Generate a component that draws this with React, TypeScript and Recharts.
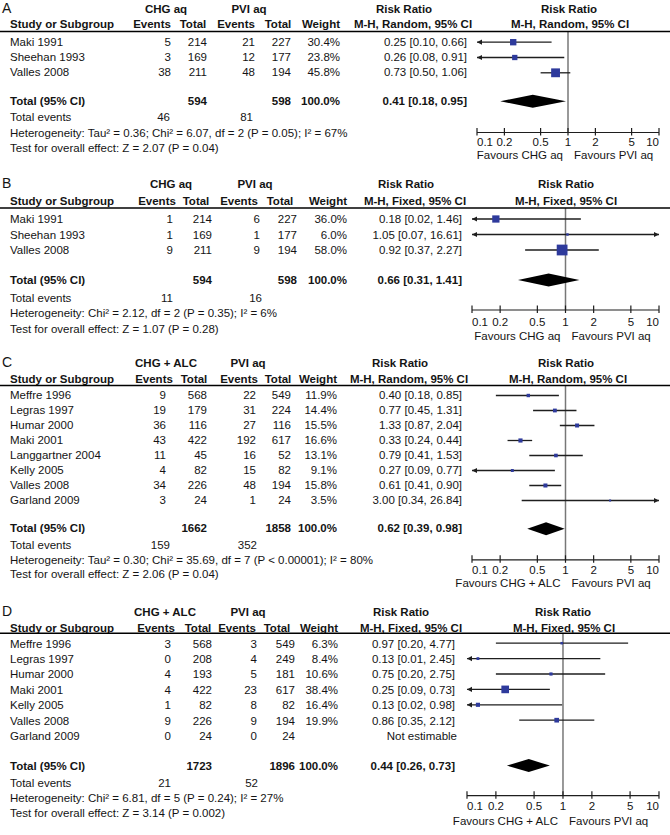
import React from 'react';
import { ComposedChart, Scatter, XAxis, YAxis, ReferenceLine } from 'recharts';

// ---------- shared axis ----------
const rrTicks = [0.1, 0.2, 0.5, 1, 2, 5, 10];
const rrTickLabels = ['0.1', '0.2', '0.5', '1', '2', '5', '10'];

// ---------- Panel A ----------
const studiesA = ['Maki 1991', 'Sheehan 1993', 'Valles 2008'];
const chgEventsA = [5, 3, 38];
const chgTotalA = [214, 169, 211];
const pviEventsA = [21, 12, 48];
const pviTotalA = [227, 177, 194];
const weightA = [30.4, 23.8, 45.8];
const rrA = [0.25, 0.26, 0.73];
const lowerA = [0.099, 0.08, 0.5];
const upperA = [0.66, 0.91, 1.06];
const totalsA = [594, 598];
const pooledA = [0.41, 0.18, 0.95];
const totalEventsA = [46, 81];
const groupsA = ['CHG aq', 'PVI aq'];
const methodA = 'M-H, Random, 95% CI';
const favoursA = ['Favours CHG aq', 'Favours PVI aq'];
const hetA = 'Heterogeneity: Tau² = 0.36; Chi² = 6.07, df = 2 (P = 0.05); I² = 67%';
const testA = 'Test for overall effect: Z = 2.07 (P = 0.04)';

// ---------- Panel B ----------
const studiesB = ['Maki 1991', 'Sheehan 1993', 'Valles 2008'];
const chgEventsB = [1, 1, 9];
const chgTotalB = [214, 169, 211];
const pviEventsB = [6, 1, 9];
const pviTotalB = [227, 177, 194];
const weightB = [36.0, 6.0, 58.0];
const rrB = [0.18, 1.05, 0.92];
const lowerB = [0.02, 0.07, 0.37];
const upperB = [1.46, 16.61, 2.27];
const totalsB = [594, 598];
const pooledB = [0.66, 0.31, 1.41];
const totalEventsB = [11, 16];
const groupsB = ['CHG aq', 'PVI aq'];
const methodB = 'M-H, Fixed, 95% CI';
const favoursB = ['Favours CHG aq', 'Favours PVI aq'];
const hetB = 'Heterogeneity: Chi² = 2.12, df = 2 (P = 0.35); I² = 6%';
const testB = 'Test for overall effect: Z = 1.07 (P = 0.28)';

// ---------- Panel C ----------
const studiesC = ['Meffre 1996', 'Legras 1997', 'Humar 2000', 'Maki 2001', 'Langgartner 2004', 'Kelly 2005', 'Valles 2008', 'Garland 2009'];
const chgEventsC = [9, 19, 36, 43, 11, 4, 34, 3];
const chgTotalC = [568, 179, 116, 422, 45, 82, 226, 24];
const pviEventsC = [22, 31, 27, 192, 16, 15, 48, 1];
const pviTotalC = [549, 224, 116, 617, 52, 82, 194, 24];
const weightC = [11.9, 14.4, 15.5, 16.6, 13.1, 9.1, 15.8, 3.5];
const rrC = [0.4, 0.77, 1.33, 0.33, 0.79, 0.27, 0.61, 3.0];
const lowerC = [0.18, 0.45, 0.87, 0.24, 0.41, 0.09, 0.41, 0.34];
const upperC = [0.85, 1.31, 2.04, 0.44, 1.53, 0.77, 0.9, 26.84];
const totalsC = [1662, 1858];
const pooledC = [0.62, 0.39, 0.98];
const totalEventsC = [159, 352];
const groupsC = ['CHG + ALC', 'PVI aq'];
const methodC = 'M-H, Random, 95% CI';
const favoursC = ['Favours CHG + ALC', 'Favours PVI aq'];
const hetC = 'Heterogeneity: Tau² = 0.30; Chi² = 35.69, df = 7 (P < 0.00001); I² = 80%';
const testC = 'Test for overall effect: Z = 2.06 (P = 0.04)';

// ---------- Panel D ----------
const studiesD = ['Meffre 1996', 'Legras 1997', 'Humar 2000', 'Maki 2001', 'Kelly 2005', 'Valles 2008', 'Garland 2009'];
const chgEventsD = [3, 0, 4, 4, 1, 9, 0];
const chgTotalD = [568, 208, 193, 422, 82, 226, 24];
const pviEventsD = [3, 4, 5, 23, 8, 9, 0];
const pviTotalD = [549, 249, 181, 617, 82, 194, 24];
const weightD = [6.3, 8.4, 10.6, 38.4, 16.4, 19.9, null];
const rrD = [0.97, 0.13, 0.75, 0.25, 0.13, 0.86, null];
const lowerD = [0.2, 0.01, 0.2, 0.09, 0.02, 0.35, null];
const upperD = [4.77, 2.45, 2.75, 0.73, 0.98, 2.12, null];
const totalsD = [1723, 1896];
const pooledD = [0.44, 0.26, 0.73];
const totalEventsD = [21, 52];
const groupsD = ['CHG + ALC', 'PVI aq'];
const methodD = 'M-H, Fixed, 95% CI';
const favoursD = ['Favours CHG + ALC', 'Favours PVI aq'];
const hetD = 'Heterogeneity: Chi² = 6.81, df = 5 (P = 0.24); I² = 27%';
const testD = 'Test for overall effect: Z = 3.14 (P = 0.002)';

// ---------- layout (pixels) ----------
type Layout = {
  letterY: number; grpY: number; hdrY: number; lineY: number; rowY0: number; step: number; totalRow: number;
  totEvY: number; hetY: number; testY: number; axisY: number; xLeft: number; xRight: number; tickY: number; favY: number;
};
type Cols = {
  ev1: number; tot1: number; ev2: number; tot2: number; wt: number; rr: number; tev1: number; tev2: number;
  hEv1: number; hTot1: number; hEv2: number; hTot2: number; g1: number; g2: number;
  rrH1: number; rrH2: number; plH1: number; plH2: number;
};

const layoutA: Layout = { letterY: 7.8, grpY: 9.3, hdrY: 24, lineY: 31.5, rowY0: 41.7, step: 15.3, totalRow: 3.86, totEvY: 117.3, hetY: 133.3, testY: 148.3, axisY: 132, xLeft: 477, xRight: 659, tickY: 141.7, favY: 155 };
const layoutB: Layout = { letterY: 182.7, grpY: 184.3, hdrY: 201, lineY: 208, rowY0: 219, step: 15.5, totalRow: 3.94, totEvY: 297.7, hetY: 313.3, testY: 329, axisY: 310, xLeft: 472, xRight: 659, tickY: 321.7, favY: 335.7 };
const layoutC: Layout = { letterY: 361.7, grpY: 363, hdrY: 379, lineY: 385.5, rowY0: 395, step: 15.0, totalRow: 8.89, totEvY: 545, hetY: 560, testY: 574, axisY: 559.3, xLeft: 472, xRight: 659, tickY: 570, favY: 582.7 };
const layoutD: Layout = { letterY: 610.7, grpY: 611.7, hdrY: 627.7, lineY: 633.3, rowY0: 643.5, step: 15.4, totalRow: 7.95, totEvY: 783, hetY: 798, testY: 813, axisY: 796, xLeft: 467, xRight: 659, tickY: 806.7, favY: 821 };

const colsA: Cols = { ev1: 171, tot1: 207, ev2: 255, tot2: 291, wt: 340, rr: 467, tev1: 170, tev2: 253, hEv1: 152, hTot1: 193, hEv2: 236, hTot2: 278, g1: 166, g2: 249, rrH1: 404, rrH2: 413, plH1: 569, plH2: 570 };
const colsB: Cols = { ev1: 173, tot1: 212, ev2: 260, tot2: 297, wt: 347, rr: 462, tev1: 173, tev2: 262, hEv1: 157, hTot1: 196, hEv2: 239, hTot2: 280, g1: 171, g2: 255, rrH1: 406, rrH2: 415, plH1: 566, plH2: 566 };
const colsC: Cols = { ev1: 166, tot1: 207, ev2: 256, tot2: 291, wt: 337, rr: 462, tev1: 170, tev2: 257, hEv1: 154, hTot1: 194, hEv2: 239, hTot2: 278, g1: 166, g2: 248, rrH1: 400, rrH2: 409, plH1: 566, plH2: 568 };
const colsD: Cols = { ev1: 171, tot1: 212, ev2: 257, tot2: 295, wt: 338, rr: 455, tev1: 171, tev2: 258, hEv1: 156, hTot1: 198, hEv2: 237, hTot2: 277, g1: 165, g2: 248, rrH1: 401, rrH2: 411, plH1: 563, plH2: 564 };

type PanelDef = {
  letter: string; studies: string[]; chgEvents: number[]; chgTotal: number[]; pviEvents: number[]; pviTotal: number[];
  weight: (number | null)[]; rr: (number | null)[]; lower: (number | null)[]; upper: (number | null)[];
  totals: number[]; pooled: number[]; totalEvents: number[]; groups: string[]; method: string; favours: string[];
  het: string; test: string; L: Layout; C: Cols;
};

const panels: PanelDef[] = [
  { letter: 'A', studies: studiesA, chgEvents: chgEventsA, chgTotal: chgTotalA, pviEvents: pviEventsA, pviTotal: pviTotalA, weight: weightA, rr: rrA, lower: lowerA, upper: upperA, totals: totalsA, pooled: pooledA, totalEvents: totalEventsA, groups: groupsA, method: methodA, favours: favoursA, het: hetA, test: testA, L: layoutA, C: colsA },
  { letter: 'B', studies: studiesB, chgEvents: chgEventsB, chgTotal: chgTotalB, pviEvents: pviEventsB, pviTotal: pviTotalB, weight: weightB, rr: rrB, lower: lowerB, upper: upperB, totals: totalsB, pooled: pooledB, totalEvents: totalEventsB, groups: groupsB, method: methodB, favours: favoursB, het: hetB, test: testB, L: layoutB, C: colsB },
  { letter: 'C', studies: studiesC, chgEvents: chgEventsC, chgTotal: chgTotalC, pviEvents: pviEventsC, pviTotal: pviTotalC, weight: weightC, rr: rrC, lower: lowerC, upper: upperC, totals: totalsC, pooled: pooledC, totalEvents: totalEventsC, groups: groupsC, method: methodC, favours: favoursC, het: hetC, test: testC, L: layoutC, C: colsC },
  { letter: 'D', studies: studiesD, chgEvents: chgEventsD, chgTotal: chgTotalD, pviEvents: pviEventsD, pviTotal: pviTotalD, weight: weightD, rr: rrD, lower: lowerD, upper: upperD, totals: totalsD, pooled: pooledD, totalEvents: totalEventsD, groups: groupsD, method: methodD, favours: favoursD, het: hetD, test: testD, L: layoutD, C: colsD },
];

const FONT = '"Liberation Sans", Arial, Helvetica, sans-serif';
const FS = 11.5;
const TXT = '#141414';
const SQUARE = '#2E3A9C';
const LINE = '#1e1e1e';

const fmtRR = (v: number, lo: number, hi: number) => `${v.toFixed(2)} [${lo.toFixed(2)}, ${hi.toFixed(2)}]`;

function CiShape(props: any) {
  const { x1, y1, x2, y2, arrowLeft, arrowRight } = props;
  return (
    <g>
      <line x1={x1} y1={y1} x2={x2} y2={y2} stroke={LINE} strokeWidth={1.3} />
      {arrowLeft && <polygon points={`${x1},${y1} ${x1 + 5},${y1 - 2.6} ${x1 + 5},${y1 + 2.6}`} fill={LINE} />}
      {arrowRight && <polygon points={`${x2},${y2} ${x2 - 5},${y2 - 2.6} ${x2 - 5},${y2 + 2.6}`} fill={LINE} />}
    </g>
  );
}

function DiamondShape(props: any) {
  const { x1, y1, x2, lo, hi, est } = props;
  const t = (Math.log(est) - Math.log(lo)) / (Math.log(hi) - Math.log(lo));
  const xc = x1 + (x2 - x1) * t;
  const h = 6.5;
  return <polygon points={`${x1},${y1} ${xc},${y1 - h} ${x2},${y1} ${xc},${y1 + h}`} fill="#000" />;
}

function SquareShape(props: any) {
  const { cx, cy, payload } = props;
  const s = 1.5 + 0.16 * payload.w;
  return <rect x={cx - s / 2} y={cy - s / 2} width={s} height={s} fill={SQUARE} />;
}

function renderTick(tp: any, dy: number) {
  const { x, y, payload, index } = tp;
  const last = rrTicks.length - 1;
  const anchor = index === 0 ? 'start' : index === last ? 'end' : 'middle';
  const label = rrTickLabels[rrTicks.indexOf(payload.value)];
  return (
    <g>
      <line x1={x} x2={x} y1={y - 4.5} y2={y + 3} stroke={LINE} strokeWidth={1.2} />
      <text x={x} y={y + dy + 4} textAnchor={anchor} fontFamily={FONT} fontSize={FS} fill={TXT}>{label}</text>
    </g>
  );
}

const clampX = (v: number) => Math.min(10, Math.max(0.1, v));

function PlotChart({ p }: { p: PanelDef }) {
  const L = p.L;
  const plotH = L.axisY - L.lineY;
  const axisH = 30;
  const r0 = -(L.rowY0 - L.lineY) / L.step;
  const r1 = r0 + plotH / L.step;
  const points = p.rr
    .map((v, i) => ({ x: v, y: i, w: p.weight[i] }))
    .filter((d) => d.x != null);
  return (
    <div style={{ position: 'absolute', left: 0, top: L.lineY }}>
      <ComposedChart
        width={670}
        height={plotH + axisH}
        margin={{ top: 0, right: 670 - L.xRight, bottom: 0, left: L.xLeft }}
      >
        <XAxis
          type="number"
          dataKey="x"
          scale="log"
          domain={[0.1, 10]}
          ticks={rrTicks}
          interval={0}
          allowDataOverflow
          height={axisH}
          tickSize={0}
          tickMargin={0}
          tickLine={false}
          axisLine={{ stroke: LINE, strokeWidth: 1.2 }}
          tick={(tp: any) => renderTick(tp, L.tickY - L.axisY)}
        />
        <YAxis type="number" dataKey="y" hide domain={[r0, r1]} reversed allowDataOverflow />
        <ReferenceLine x={1} stroke="#777" strokeWidth={1.5} ifOverflow="visible" />
        {p.rr.map((v, i) => {
          const lo = p.lower[i];
          const hi = p.upper[i];
          if (v == null || lo == null || hi == null) return null;
          return (
            <ReferenceLine
              key={`ci${i}`}
              segment={[{ x: clampX(lo), y: i }, { x: clampX(hi), y: i }]}
              ifOverflow="visible"
              shape={(sp: any) => <CiShape {...sp} arrowLeft={lo < 0.1} arrowRight={hi > 10} />}
            />
          );
        })}
        <ReferenceLine
          segment={[{ x: p.pooled[1], y: L.totalRow }, { x: p.pooled[2], y: L.totalRow }]}
          ifOverflow="visible"
          shape={(sp: any) => <DiamondShape {...sp} lo={p.pooled[1]} hi={p.pooled[2]} est={p.pooled[0]} />}
        />
        <Scatter data={points} isAnimationActive={false} shape={SquareShape} />
      </ComposedChart>
    </div>
  );
}

function T(props: any) {
  const { x, y, anchor = 'start', bold = false, children } = props;
  return (
    <text x={x} y={y + 4} textAnchor={anchor} fontFamily={FONT} fontSize={FS} fontWeight={bold ? 'bold' : 'normal'} fill={TXT}>
      {children}
    </text>
  );
}

function PanelTable({ p }: { p: PanelDef }) {
  const L = p.L;
  const c = p.C;
  const rowY = (r: number) => L.rowY0 + r * L.step;
  const vx = L.xLeft + (L.xRight - L.xLeft) / 2;
  const ty = rowY(L.totalRow);
  return (
    <g>
      <text x={2} y={L.letterY + 5} fontFamily={FONT} fontSize={14} fill={TXT}>{p.letter}</text>
      <T x={c.g1} y={L.grpY} anchor="middle" bold>{p.groups[0]}</T>
      <T x={c.g2} y={L.grpY} anchor="middle" bold>{p.groups[1]}</T>
      <T x={c.rrH1} y={L.grpY} anchor="middle" bold>Risk Ratio</T>
      <T x={c.plH1} y={L.grpY} anchor="middle" bold>Risk Ratio</T>
      <T x={10} y={L.hdrY} bold>Study or Subgroup</T>
      <T x={c.hEv1} y={L.hdrY} anchor="middle" bold>Events</T>
      <T x={c.hTot1} y={L.hdrY} anchor="middle" bold>Total</T>
      <T x={c.hEv2} y={L.hdrY} anchor="middle" bold>Events</T>
      <T x={c.hTot2} y={L.hdrY} anchor="middle" bold>Total</T>
      <T x={c.wt} y={L.hdrY} anchor="end" bold>Weight</T>
      <T x={c.rrH2} y={L.hdrY} anchor="middle" bold>{p.method}</T>
      <T x={c.plH2} y={L.hdrY} anchor="middle" bold>{p.method}</T>
      <line x1={0} x2={670} y1={L.lineY} y2={L.lineY} stroke="#000" strokeWidth={1.5} />
      {p.studies.map((s, i) => {
        const y = rowY(i);
        const w = p.weight[i];
        const v = p.rr[i];
        const lo = p.lower[i];
        const hi = p.upper[i];
        return (
          <g key={s}>
            <T x={10} y={y}>{s}</T>
            <T x={c.ev1} y={y} anchor="end">{p.chgEvents[i]}</T>
            <T x={c.tot1} y={y} anchor="end">{p.chgTotal[i]}</T>
            <T x={c.ev2} y={y} anchor="end">{p.pviEvents[i]}</T>
            <T x={c.tot2} y={y} anchor="end">{p.pviTotal[i]}</T>
            {w != null && <T x={c.wt} y={y} anchor="end">{`${w.toFixed(1)}%`}</T>}
            {v != null && lo != null && hi != null ? (
              <T x={c.rr} y={y} anchor="end">{fmtRR(v, lo, hi)}</T>
            ) : (
              <T x={c.rr + 2} y={y} anchor="end">Not estimable</T>
            )}
          </g>
        );
      })}
      <T x={10} y={ty} bold>Total (95% CI)</T>
      <T x={c.tot1} y={ty} anchor="end" bold>{p.totals[0]}</T>
      <T x={c.tot2} y={ty} anchor="end" bold>{p.totals[1]}</T>
      <T x={c.wt} y={ty} anchor="end" bold>100.0%</T>
      <T x={c.rr} y={ty} anchor="end" bold>{fmtRR(p.pooled[0], p.pooled[1], p.pooled[2])}</T>
      <T x={10} y={L.totEvY}>Total events</T>
      <T x={c.tev1} y={L.totEvY} anchor="end">{p.totalEvents[0]}</T>
      <T x={c.tev2} y={L.totEvY} anchor="end">{p.totalEvents[1]}</T>
      <T x={10} y={L.hetY}>{p.het}</T>
      <T x={10} y={L.testY}>{p.test}</T>
      <T x={vx - 5} y={L.favY} anchor="end">{p.favours[0]}</T>
      <T x={vx + 6} y={L.favY}>{p.favours[1]}</T>
    </g>
  );
}

export default function App() {
  return (
    <div style={{ position: 'absolute', left: 0, top: 0, width: 670, height: 835, background: '#fff', overflow: 'hidden' }}>
      {panels.map((p) => (
        <PlotChart key={p.letter} p={p} />
      ))}
      <svg width={670} height={835} style={{ position: 'absolute', left: 0, top: 0, pointerEvents: 'none' }}>
        {panels.map((p) => (
          <PanelTable key={p.letter} p={p} />
        ))}
      </svg>
    </div>
  );
}
